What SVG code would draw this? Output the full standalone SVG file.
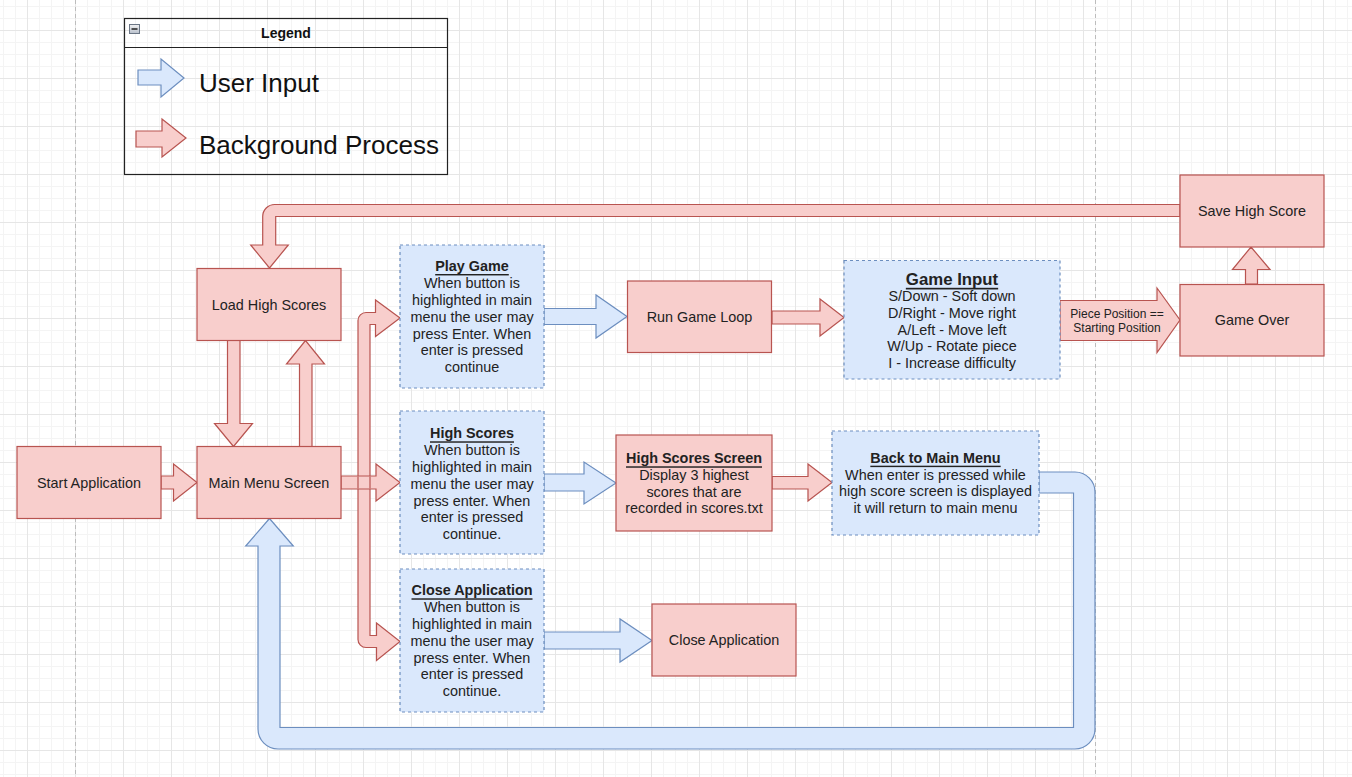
<svg xmlns="http://www.w3.org/2000/svg" width="1352" height="777" viewBox="0 0 1352 777">
<defs>
<pattern id="grid" x="27" y="30" width="48" height="48" patternUnits="userSpaceOnUse">
<path d="M12.5 0V48M24.5 0V48M36.5 0V48M0 12.5H48M0 24.5H48M0 36.5H48" stroke="#f4f4f4" stroke-width="1" fill="none"/>
<path d="M0.5 0V48M0 0.5H48" stroke="#e6e6e6" stroke-width="1" fill="none"/>
</pattern>
<linearGradient id="btn" x1="0" y1="0" x2="0" y2="1">
<stop offset="0" stop-color="#f2f2f2"/><stop offset="1" stop-color="#b8c0cc"/>
</linearGradient>
</defs>
<style>
.red{fill:#f8cecc;stroke:#b85450;stroke-width:1.2}
.blue{fill:#dae8fc;stroke:#6c8ebf;stroke-width:1.2}
.bluen{fill:#dae8fc;stroke:#6c8ebf;stroke-width:1.2;stroke-dasharray:3 3}
.t{font-family:"Liberation Sans",Arial,sans-serif;font-size:14.4px;fill:#222;text-anchor:middle;dominant-baseline:central}
.h{font-weight:bold;text-decoration:underline}
.s{font-size:12px}
.lg{font-family:"Liberation Sans",Arial,sans-serif;font-size:26px;fill:#111;dominant-baseline:central}
</style>
<rect width="1352" height="777" fill="#ffffff"/>
<rect width="1352" height="777" fill="url(#grid)"/>
<path d="M75.5 0V777M1095.5 0V777" stroke="#bdbdbd" stroke-width="1" stroke-dasharray="4 3" fill="none"/>

<g id="legend">
<rect x="124.5" y="18.5" width="323" height="156" fill="none" stroke="#222" stroke-width="1.2"/>
<path d="M124.5 47.5H447.5" stroke="#222" stroke-width="1.2"/>
<rect x="129.5" y="24.5" width="10" height="9" fill="url(#btn)" stroke="#6b7685" stroke-width="1"/>
<path d="M131.5 29H137.5" stroke="#222" stroke-width="1.5"/>
<text x="286" y="33" class="t" style="font-size:14px;font-weight:bold;fill:#111">Legend</text>
<path class="blue" d="M138 70H161V59L184 78L161 97V85H138Z"/>
<text x="199" y="83" class="lg">User Input</text>
<path class="red" d="M136 131H162V119L186 138L162 157V147H136Z"/>
<text x="199" y="145" class="lg">Background Process</text>
</g>

<g id="connectors">
<path class="red" d="M1180 204.5H274.7A12 12 0 0 0 262.7 216.5V245H250.7L269.5 268L288.3 245H275.7V216.5H1180Z"/>
<path class="blue" d="M1039 472H1075A20 20 0 0 1 1095 492V729A20 20 0 0 1 1075 749H278A20 20 0 0 1 258 729V546H245.7L269.5 518.5L293.3 546H280V727.5H1073.5V493H1039Z"/>
<path class="red" d="M400 318L375.5 300V312.5H366A8 8 0 0 0 358 320.5V639.5A8 8 0 0 0 366 647.5H376.5V660.5L400 641.5L376.5 623V635.5H370V324.5H375.5V336.5Z"/>
<path class="red" d="M161 476H173.5V464L197 482.5L173.5 501V489H161Z"/>
<path class="red" d="M341 476H376V464L400 482.5L376 501V489H341Z"/>
<path d="M358 476.6V488.4M370 476.6V488.4" stroke="#b85450" stroke-width="1.2"/>
<path class="red" d="M227.5 340.5V423.5H214.5L233.5 446.5L252.5 423.5H240V340.5Z"/>
<path class="red" d="M299.5 446.5V364H286.5L305.5 340.5L324.5 364H312V446.5Z"/>
<path class="blue" d="M544 308.5H596V295L627 316.5L596 338V324.5H544Z"/>
<path class="red" d="M772 311H820V299L844 317.5L820 336V324H772Z"/>
<path class="blue" d="M544 474H584V462L616 483L584 504V491H544Z"/>
<path class="red" d="M772 476.5H808V464L832 482.5L808 501V489H772Z"/>
<path class="blue" d="M544 632H620V619L652 640.5L620 662V649H544Z"/>
<path class="red" d="M1060 300.5H1157V288L1180 320L1157 352.5V340.5H1060Z"/>
<text class="t s" x="1117" y="313.5">Piece Position ==</text>
<text class="t s" x="1117" y="327.5">Starting Position</text>
<path class="red" d="M1245.5 284V269.5H1232.5L1251 247L1270 269.5H1257.5V284Z"/>
</g>

<g id="start-application">
<rect class="red" x="17" y="446.5" width="144" height="72"/>
<text class="t" x="89" y="482.5">Start Application</text>
</g>
<g id="main-menu-screen">
<rect class="red" x="197" y="446.5" width="144" height="72"/>
<text class="t" x="269" y="482.5">Main Menu Screen</text>
</g>
<g id="load-high-scores">
<rect class="red" x="197" y="268.5" width="144" height="72"/>
<text class="t" x="269" y="304.5">Load High Scores</text>
</g>
<g id="play-game">
<rect class="bluen" x="400" y="245" width="144" height="143"/>
<text class="t h" x="472" y="266">Play Game</text>
<text class="t" x="472" y="283.2">When button is</text>
<text class="t" x="472" y="300">highlighted in main</text>
<text class="t" x="472" y="316.8">menu the user may</text>
<text class="t" x="472" y="333.6">press Enter. When</text>
<text class="t" x="472" y="350.4">enter is pressed</text>
<text class="t" x="472" y="367.2">continue</text>
</g>
<g id="high-scores">
<rect class="bluen" x="400" y="411" width="144" height="143"/>
<text class="t h" x="472" y="433.3">High Scores</text>
<text class="t" x="472" y="450.1">When button is</text>
<text class="t" x="472" y="466.9">highlighted in main</text>
<text class="t" x="472" y="483.7">menu the user may</text>
<text class="t" x="472" y="500.5">press enter. When</text>
<text class="t" x="472" y="517.3">enter is pressed</text>
<text class="t" x="472" y="534.1">continue.</text>
</g>
<g id="close-application-input">
<rect class="bluen" x="400" y="569" width="144" height="143"/>
<text class="t h" x="472" y="590.3">Close Application</text>
<text class="t" x="472" y="607.1">When button is</text>
<text class="t" x="472" y="623.9">highlighted in main</text>
<text class="t" x="472" y="640.7">menu the user may</text>
<text class="t" x="472" y="657.5">press enter. When</text>
<text class="t" x="472" y="674.3">enter is pressed</text>
<text class="t" x="472" y="691.1">continue.</text>
</g>
<g id="run-game-loop">
<rect class="red" x="627.5" y="281" width="144" height="71.5"/>
<text class="t" x="699.5" y="317">Run Game Loop</text>
</g>
<g id="game-input">
<rect class="bluen" x="844" y="260.5" width="216" height="118.5"/>
<text class="t h" x="952" y="279.3" style="font-size:16.8px">Game Input</text>
<text class="t" x="952" y="296">S/Down - Soft down</text>
<text class="t" x="952" y="312.8">D/Right - Move right</text>
<text class="t" x="952" y="329.6">A/Left - Move left</text>
<text class="t" x="952" y="346.4">W/Up - Rotate piece</text>
<text class="t" x="952" y="363.2">I - Increase difficulty</text>
</g>
<g id="game-over">
<rect class="red" x="1180" y="284.5" width="144" height="71.5"/>
<text class="t" x="1252" y="320">Game Over</text>
</g>
<g id="save-high-score">
<rect class="red" x="1180" y="175" width="144" height="72"/>
<text class="t" x="1252" y="211">Save High Score</text>
</g>
<g id="high-scores-screen">
<rect class="red" x="616" y="435" width="156" height="96"/>
<text class="t h" x="694" y="458.3">High Scores Screen</text>
<text class="t" x="694" y="475">Display 3 highest</text>
<text class="t" x="694" y="491.7">scores that are</text>
<text class="t" x="694" y="508.4">recorded in scores.txt</text>
</g>
<g id="back-to-main-menu">
<rect class="bluen" x="832" y="431" width="207" height="104"/>
<text class="t h" x="935.5" y="457.7">Back to Main Menu</text>
<text class="t" x="935.5" y="474.5">When enter is pressed while</text>
<text class="t" x="935.5" y="491.3">high score screen is displayed</text>
<text class="t" x="935.5" y="508.1">it will return to main menu</text>
</g>
<g id="close-application">
<rect class="red" x="652" y="604" width="144" height="72"/>
<text class="t" x="724" y="640">Close Application</text>
</g>
</svg>
